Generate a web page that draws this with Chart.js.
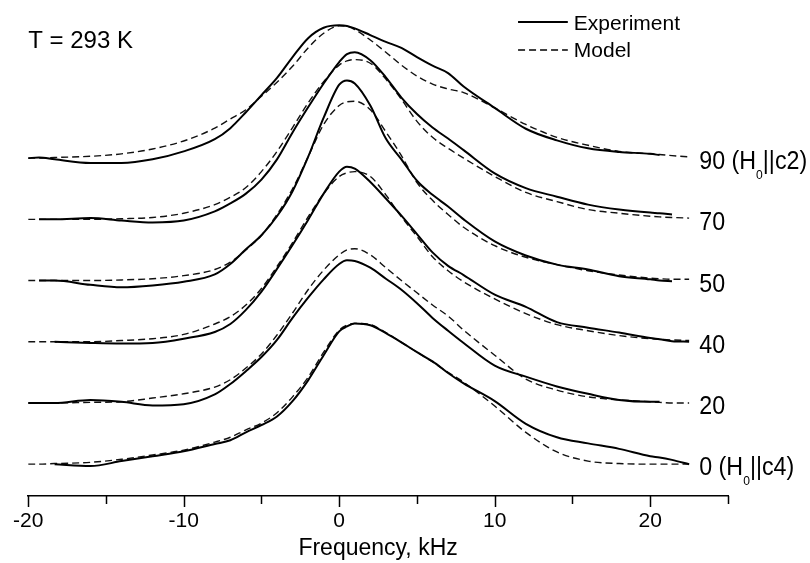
<!DOCTYPE html>
<html>
<head>
<meta charset="utf-8">
<script src="https://cdn.jsdelivr.net/npm/chart.js@4.4.0/dist/chart.umd.min.js"></script>
<style>
  html, body { margin: 0; padding: 0; background: #fff; }
</style>
</head>
<body>
<canvas id="chart" width="810" height="563"></canvas>
<script>
// frequency grid (kHz) shared by all spectra
const freq = [-20, -19.3, -18.3, -16, -14, -12, -10, -8, -7, -6, -5, -4, -3, -2, -1, 0, 0.5, 1,
  2, 3, 4, 5, 6, 7, 8, 10, 12, 14, 16, 18, 20, 20.6, 21.4, 22.5];

// intensities (arb. units), null = not measured there
const exp90 = [0, 0.01, -0.02, -0.08, -0.08, -0.02, 0.11, 0.31, 0.49, 0.75, 1.03, 1.31, 1.65, 1.96, 2.13, 2.17, 2.16, 2.12,
  2.01, 1.90, 1.80, 1.65, 1.51, 1.39, 1.17, 0.82, 0.48, 0.29, 0.16, 0.10, 0.07, 0.05, null, null];
const model90 = [0, 0, 0.01, 0.03, 0.07, 0.15, 0.28, 0.49, 0.64, 0.79, 1.01, 1.24, 1.50, 1.80, 2.04, 2.16, 2.15, 2.10,
  1.93, 1.73, 1.52, 1.34, 1.21, 1.13, 1.07, 0.82, 0.55, 0.34, 0.21, 0.11, 0.07, 0.06, 0.04, 0.02];

const exp70 = [null, 0, 0, 0.02, -0.02, -0.05, -0.02, 0.13, 0.26, 0.42, 0.65, 0.98, 1.42, 1.83, 2.22, 2.57, 2.70, 2.73,
  2.60, 2.32, 1.99, 1.72, 1.50, 1.32, 1.13, 0.75, 0.51, 0.37, 0.24, 0.16, 0.11, 0.10, 0.08, null];
const model70 = [0, 0, 0, 0, 0.01, 0.03, 0.10, 0.24, 0.36, 0.52, 0.78, 1.11, 1.50, 1.90, 2.25, 2.52, 2.59, 2.61,
  2.55, 2.29, 1.96, 1.60, 1.34, 1.16, 1.00, 0.70, 0.44, 0.29, 0.16, 0.10, 0.05, 0.04, 0.03, 0.02];

const exp50 = [null, 0, 0, -0.07, -0.11, -0.08, -0.02, 0.10, 0.27, 0.51, 0.74, 1.05, 1.46, 2.02, 2.66, 3.20, 3.27, 3.22,
  2.86, 2.32, 1.98, 1.63, 1.40, 1.21, 1.00, 0.64, 0.41, 0.26, 0.18, 0.07, 0.02, 0, -0.01, null];
const model50 = [0, 0, 0, 0, 0.01, 0.03, 0.08, 0.18, 0.30, 0.50, 0.74, 1.08, 1.50, 2.02, 2.55, 2.86, 2.92, 2.93,
  2.79, 2.43, 2.04, 1.60, 1.31, 1.08, 0.87, 0.57, 0.38, 0.26, 0.16, 0.09, 0.04, 0.03, 0.02, 0.02];

const exp40 = [null, null, 0, -0.02, -0.03, -0.02, 0.05, 0.16, 0.29, 0.52, 0.82, 1.19, 1.58, 1.99, 2.42, 2.78, 2.86, 2.83,
  2.61, 2.34, 2.06, 1.76, 1.46, 1.24, 1.09, 0.77, 0.57, 0.32, 0.23, 0.15, 0.06, 0.04, 0.01, 0];
const model40 = [0, 0, 0, 0, 0.02, 0.05, 0.12, 0.29, 0.41, 0.60, 0.87, 1.23, 1.62, 2.04, 2.42, 2.70, 2.76, 2.78,
  2.70, 2.40, 2.04, 1.72, 1.39, 1.16, 0.98, 0.70, 0.46, 0.28, 0.18, 0.10, 0.05, 0.04, 0.03, 0.02];

const exp20 = [0, 0, 0, 0.05, 0.02, -0.04, -0.02, 0.14, 0.31, 0.52, 0.75, 1.03, 1.39, 1.72, 2.02, 2.27, 2.33, 2.32,
  2.21, 2.03, 1.85, 1.63, 1.39, 1.18, 0.98, 0.61, 0.43, 0.27, 0.15, 0.05, 0.02, 0.02, null, null];
const model20 = [0, 0, 0, 0.01, 0.02, 0.08, 0.15, 0.26, 0.38, 0.57, 0.80, 1.11, 1.47, 1.85, 2.17, 2.42, 2.50, 2.52,
  2.42, 2.21, 2.00, 1.80, 1.60, 1.42, 1.19, 0.78, 0.39, 0.21, 0.10, 0.05, 0.02, 0.01, 0, 0];

const exp0 = [null, null, 0, -0.03, 0.05, 0.13, 0.21, 0.33, 0.39, 0.52, 0.64, 0.78, 1.03, 1.37, 1.78, 2.17, 2.25, 2.30,
  2.27, 2.14, 1.99, 1.83, 1.68, 1.49, 1.32, 1.03, 0.66, 0.44, 0.34, 0.25, 0.13, 0.11, 0.07, 0];
const model0 = [0, 0, 0.01, 0.03, 0.08, 0.15, 0.23, 0.36, 0.44, 0.56, 0.67, 0.84, 1.10, 1.42, 1.83, 2.19, 2.27, 2.30,
  2.28, 2.15, 1.99, 1.83, 1.67, 1.50, 1.34, 0.95, 0.52, 0.20, 0.05, 0.01, 0, 0, 0, 0];

// angle labels and stacking offsets (top to bottom)
const angles = ['90', '70', '50', '40', '20', '0'];
const axisNotes = ['c2', null, null, null, null, 'c4'];
const offsets = [5, 4, 3, 2, 1, 0];
const expSeries = [exp90, exp70, exp50, exp40, exp20, exp0];
const modelSeries = [model90, model70, model50, model40, model20, model0];
const xTicks = [-20, -15, -10, -5, 0, 5, 10, 15, 20, 25];

const FONT = '"Liberation Sans", Arial, sans-serif';

function toPoints(vals, off) {
  return freq.map((f, i) => vals[i] === null ? null : { x: f, y: vals[i] + off }).filter(p => p);
}

const datasets = [];
offsets.forEach((off, i) => {
  datasets.push({
    label: 'Experiment',
    data: toPoints(expSeries[i], off),
    borderColor: '#000',
    borderWidth: 2,
    pointRadius: 0,
    fill: false,
    cubicInterpolationMode: 'monotone'
  });
  datasets.push({
    label: 'Model',
    data: toPoints(modelSeries[i], off),
    borderColor: '#111',
    borderWidth: 1.4,
    borderDash: [7, 4],
    pointRadius: 0,
    fill: false,
    cubicInterpolationMode: 'monotone'
  });
});

// ticks, legend, temperature and angle labels
const annotate = {
  id: 'annotate',
  afterDraw(chart) {
    const { ctx, chartArea, scales: { x, y } } = chart;
    ctx.save();
    ctx.strokeStyle = '#000';
    ctx.fillStyle = '#000';

    // tick marks, majors longer
    ctx.lineWidth = 1.5;
    xTicks.forEach(v => {
      const px = Math.round(x.getPixelForValue(v)) + 0.5;
      const len = v % 10 === 0 ? 11 : 8;
      ctx.beginPath();
      ctx.moveTo(px, chartArea.bottom);
      ctx.lineTo(px, chartArea.bottom + len);
      ctx.stroke();
    });

    // temperature
    ctx.font = '24px ' + FONT;
    ctx.textBaseline = 'alphabetic';
    ctx.textAlign = 'left';
    ctx.fillText('T = 293 K', chartArea.left, 48);

    // legend
    const lx0 = x.getPixelForValue(11.5);
    const lx1 = x.getPixelForValue(14.7);
    ctx.lineWidth = 2;
    ctx.beginPath();
    ctx.moveTo(lx0, 22);
    ctx.lineTo(lx1, 22);
    ctx.stroke();
    ctx.lineWidth = 1.4;
    ctx.setLineDash([7, 4]);
    ctx.beginPath();
    ctx.moveTo(lx0, 50);
    ctx.lineTo(lx1, 50);
    ctx.stroke();
    ctx.setLineDash([]);
    ctx.font = '21px ' + FONT;
    ctx.fillText('Experiment', lx1 + 6, 30);
    ctx.fillText('Model', lx1 + 6, 57);

    // angle labels on the right, slightly condensed like the original
    const tx = x.getPixelForValue(23.15);
    offsets.forEach((off, i) => {
      const by = y.getPixelForValue(off) + 11;
      ctx.save();
      ctx.translate(tx, by);
      ctx.scale(0.93, 1);
      ctx.font = '25px ' + FONT;
      let cx = 0;
      const main = axisNotes[i] ? angles[i] + ' (H' : angles[i];
      ctx.fillText(main, cx, 0);
      if (axisNotes[i]) {
        cx += ctx.measureText(main).width;
        ctx.font = '13px ' + FONT;
        ctx.fillText('0', cx, 10);
        cx += ctx.measureText('0').width;
        ctx.font = '25px ' + FONT;
        ctx.fillText('||' + axisNotes[i] + ')', cx, 0);
      }
      ctx.restore();
    });
    ctx.restore();
  }
};

new Chart(document.getElementById('chart').getContext('2d'), {
  type: 'line',
  data: { datasets },
  options: {
    responsive: false,
    animation: false,
    devicePixelRatio: 1,
    layout: { padding: { left: 22, right: 82, top: 10, bottom: 0 } },
    plugins: {
      legend: { display: false },
      tooltip: { enabled: false }
    },
    scales: {
      x: {
        type: 'linear',
        min: -20,
        max: 25,
        afterFit(scale) { scale.height = 67; },
        ticks: {
          stepSize: 5,
          autoSkip: false,
          maxRotation: 0,
          padding: 13,
          color: '#000',
          font: { size: 21, family: FONT },
          callback: v => (v % 10 === 0 ? String(v) : '')
        },
        grid: { display: true, drawOnChartArea: false, drawTicks: false },
        border: { display: true, color: '#000', width: 1.5 },
        title: {
          display: true,
          text: 'Frequency, kHz',
          color: '#000',
          font: { size: 23, family: FONT },
          padding: { top: 0, bottom: 1 }
        }
      },
      y: {
        type: 'linear',
        display: false,
        min: -0.52,
        max: 7.42
      }
    }
  },
  plugins: [annotate]
});
</script>
</body>
</html>
